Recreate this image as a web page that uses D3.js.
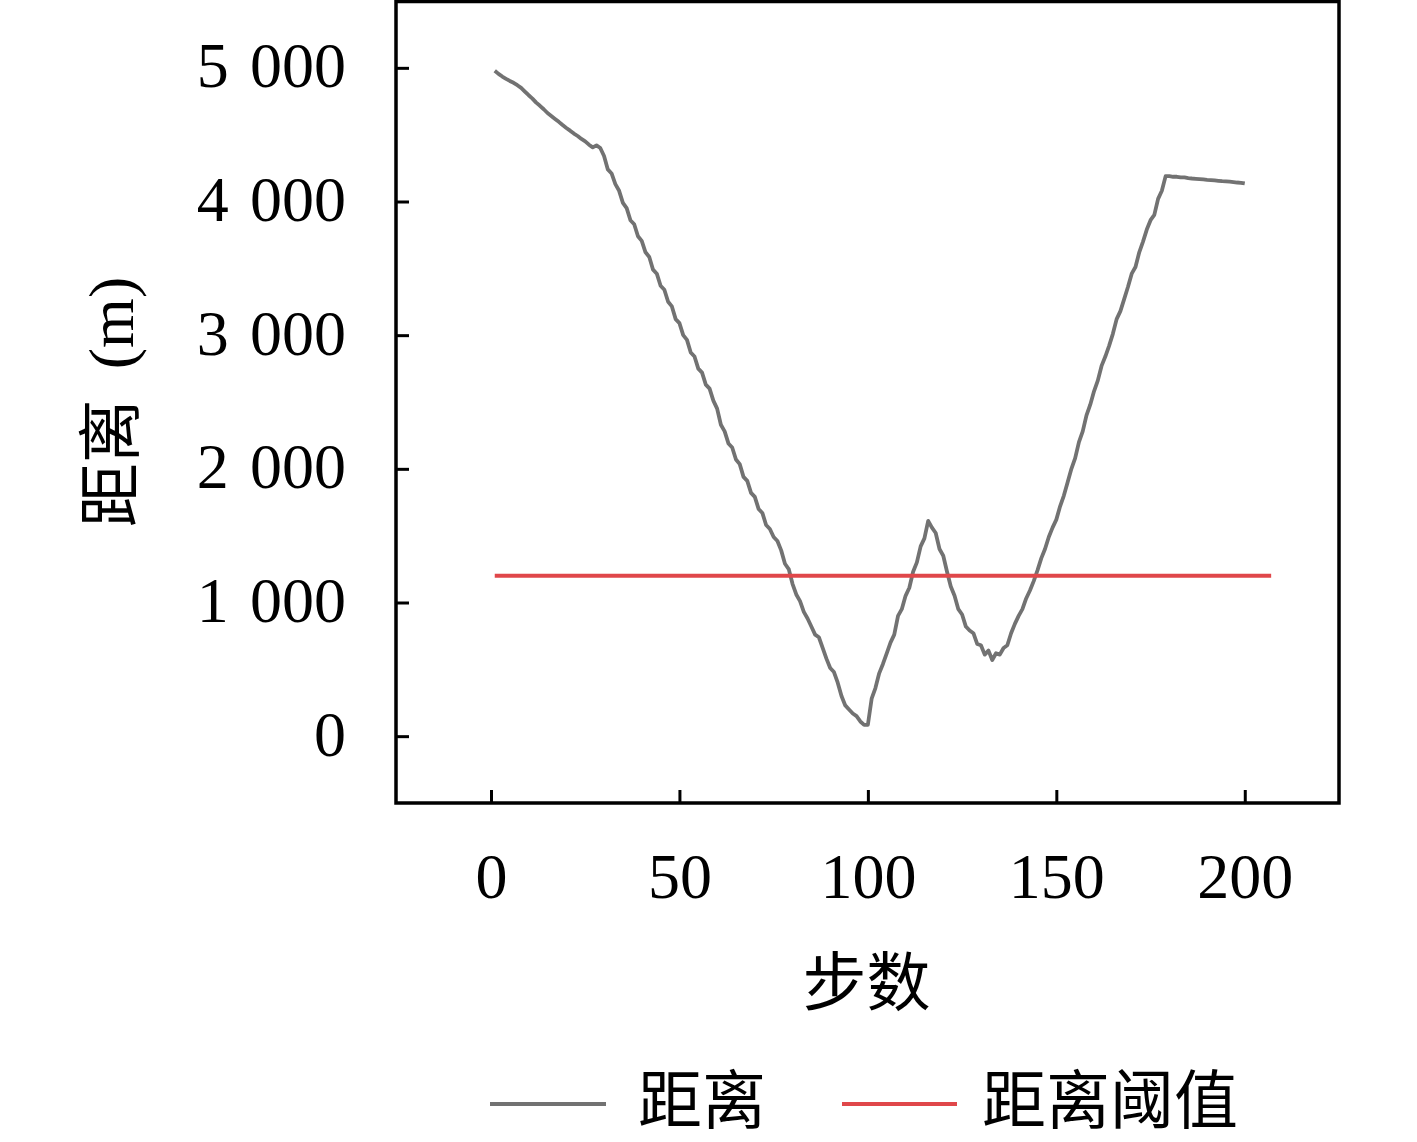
<!DOCTYPE html>
<html>
<head>
<meta charset="utf-8">
<script src="https://cdn.jsdelivr.net/npm/d3@7"></script>
<style>
  body { margin: 0; background: #fff; }
  .num { font-family: "Liberation Serif", "DejaVu Serif", serif; }
  .cjk { font-family: "Noto Sans CJK SC", "Liberation Serif", serif; }
</style>
</head>
<body>
<div id="chart"></div>
<script>

var svgWidth = 1417;
var svgHeight = 1142;

// steps 1..200, distance in metres
var distance = [
    4978, 4955, 4935, 4918, 4902, 4888, 4870, 4850, 4822, 4795,
    4770, 4740, 4716, 4690, 4662, 4640, 4618, 4596, 4572, 4550,
    4530, 4508, 4490, 4468, 4450, 4425, 4405, 4420, 4400, 4340,
    4240, 4210, 4130, 4080, 3990, 3950, 3860, 3830, 3740, 3705,
    3620, 3585, 3490, 3460, 3370, 3340, 3250, 3215, 3120, 3090,
    3000, 2965, 2870, 2840, 2750, 2720, 2630, 2600, 2510, 2450,
    2330, 2280, 2190, 2160, 2070, 2035, 1940, 1910, 1820, 1790,
    1700, 1670, 1580, 1550, 1490, 1460, 1390, 1290, 1250, 1140,
    1060, 1010, 930, 880, 820, 760, 740, 660, 580, 510,
    480, 400, 300, 230, 200, 170, 150, 110, 85, 85,
    280, 360, 470, 540, 620, 700, 760, 900, 950, 1050,
    1110, 1230, 1300, 1420, 1480, 1610, 1560, 1520, 1400, 1350,
    1230, 1120, 1050, 950, 910, 820, 790, 770, 690, 680,
    610, 640, 570, 620, 610, 660, 680, 770, 840, 900,
    950, 1030, 1090, 1160, 1240, 1330, 1400, 1490, 1560, 1620,
    1720, 1800, 1900, 2000, 2080, 2200, 2280, 2400, 2480, 2580,
    2660, 2770, 2840, 2920, 3010, 3120, 3180, 3270, 3360, 3460,
    3510, 3620, 3700, 3790, 3860, 3900, 4020, 4080, 4190, 4190,
    4185, 4185, 4180, 4180, 4175, 4172, 4170, 4168, 4165, 4162,
    4160, 4158, 4155, 4152, 4150, 4148, 4145, 4142, 4140, 4135
];

var threshold = 1200;
var thresholdSteps = [1, 207];

var xTicks = [0, 50, 100, 150, 200];
var yTicks = [0, 1000, 2000, 3000, 4000, 5000];

var seriesNames = ["距离", "距离阈值"];
var seriesColors = ["#727272", "#e0474a"];

var plot = { left: 396, right: 1339, top: 1.5, bottom: 803 };

var svg = d3.select("#chart")
    .append("svg")
    .attr("width", svgWidth)
    .attr("height", svgHeight);

var xScale = d3.scaleLinear()
    .domain([-25.2, 225])
    .range([plot.left, plot.right]);

var yScale = d3.scaleLinear()
    .domain([-500, 5500])
    .range([plot.bottom, 1]);

// thousands separated by a wider space, like "5 000"
var fmt = d => d3.format(",")(d).replace(",", "\u2004");

// axes with inward ticks
var xAxis = svg.append("g")
    .attr("transform", `translate(0, ${plot.bottom})`)
    .call(d3.axisBottom(xScale).tickValues(xTicks).tickSize(-13).tickFormat(d3.format("d")));

xAxis.select(".domain").remove();
xAxis.selectAll("line").attr("stroke", "#000").attr("stroke-width", 3);
xAxis.selectAll("text")
    .attr("class", "num")
    .attr("y", 95)
    .attr("dy", null)
    .attr("font-size", "64px")
    .attr("fill", "#000");

var yAxis = svg.append("g")
    .attr("transform", `translate(${plot.left}, 0)`)
    .call(d3.axisLeft(yScale).tickValues(yTicks).tickSize(-13).tickPadding(50).tickFormat(fmt));

yAxis.select(".domain").remove();
yAxis.selectAll("line").attr("stroke", "#000").attr("stroke-width", 3);
yAxis.selectAll("text")
    .attr("class", "num")
    .attr("dy", "19px")
    .attr("font-size", "64px")
    .attr("fill", "#000");

// data lines
var line = d3.line()
    .x((d, i) => xScale(i + 1))
    .y(d => yScale(d));

svg.append("path")
    .datum(distance)
    .attr("d", line)
    .attr("fill", "none")
    .attr("stroke", seriesColors[0])
    .attr("stroke-width", 3.8)
    .attr("stroke-linejoin", "round");

svg.append("line")
    .attr("x1", xScale(thresholdSteps[0]))
    .attr("x2", xScale(thresholdSteps[1]))
    .attr("y1", yScale(threshold))
    .attr("y2", yScale(threshold))
    .attr("stroke", seriesColors[1])
    .attr("stroke-width", 4);

// frame
svg.append("rect")
    .attr("x", plot.left)
    .attr("y", plot.top)
    .attr("width", plot.right - plot.left)
    .attr("height", plot.bottom - plot.top)
    .attr("fill", "none")
    .attr("stroke", "#000")
    .attr("stroke-width", 3.5);

// axis titles
svg.append("text")
    .attr("class", "cjk")
    .attr("x", (plot.left + plot.right) / 2 - 1)
    .attr("y", 1005)
    .attr("text-anchor", "middle")
    .attr("font-size", "64px")
    .text("步数");

var yTitle = svg.append("text")
    .attr("transform", "translate(133, 402) rotate(-90)")
    .attr("text-anchor", "middle")
    .attr("font-size", "64px");

yTitle.append("tspan").attr("class", "cjk").text("距离");
yTitle.append("tspan").attr("class", "num").attr("dx", 14).text(" (m)");

// legend
var legendItems = [
    { x1: 490, x2: 606, tx: 638 },
    { x1: 842, x2: 957, tx: 982 }
];

var legend = svg.append("g");

legendItems.forEach(function(item, i) {
    legend.append("line")
        .attr("x1", item.x1)
        .attr("x2", item.x2)
        .attr("y1", 1104)
        .attr("y2", 1104)
        .attr("stroke", seriesColors[i])
        .attr("stroke-width", 4);

    legend.append("text")
        .attr("class", "cjk")
        .attr("x", item.tx)
        .attr("y", 1123)
        .attr("font-size", "64px")
        .text(seriesNames[i]);
});

</script>
</body>
</html>
